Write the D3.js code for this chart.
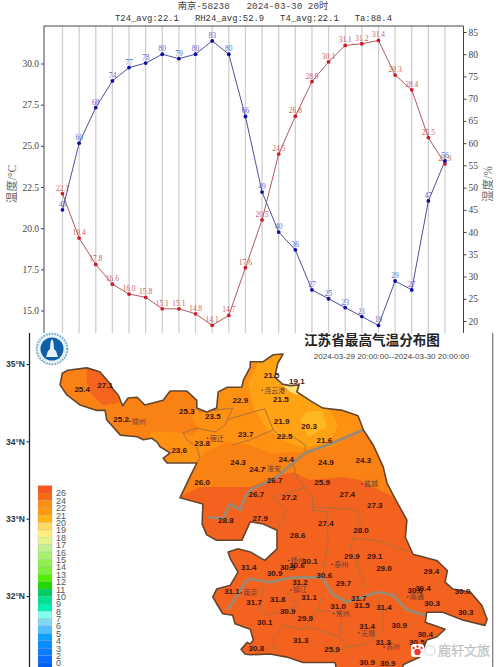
<!DOCTYPE html>
<html>
<head>
<meta charset="utf-8">
<script src="https://cdn.jsdelivr.net/npm/d3@7"></script>
<style>
  html, body { margin: 0; padding: 0; background: #fff; }
  svg { display: block; }
</style>
</head>
<body>
<div id="chart"></div>
<script>
// hourly station series
const temps = [22.1, 19.4, 17.8, 16.6, 16.0, 15.8, 15.1, 15.1, 14.8, 14.1, 14.7, 17.6, 20.5, 24.5, 26.8, 28.9, 30.1, 31.1, 31.2, 31.4, 29.3, 28.4, 25.5, 23.9];
const humidity = [45, 60, 68, 74, 77, 78, 80, 79, 80, 83, 80, 66, 49, 40, 36, 27, 25, 23, 21, 19, 29, 27, 47, 56];
const tempTicks = [15, 17.5, 20, 22.5, 25, 27.5, 30];
const rhTicks = [20, 25, 30, 35, 40, 45, 50, 55, 60, 65, 70, 75, 80, 85];

// legend
const legendLabels = ["26", "24", "22", "21", "20", "19", "18", "17", "16", "15", "14", "13", "12", "11", "10", "9", "8", "7", "6", "5", "4", "3", "2", "0"];
const legendColors = ["#F4581E", "#F96A16", "#FF8C12", "#FF9A10", "#FFB414", "#FFD868", "#FFF07C", "#E4F590", "#C0F090", "#A8F070", "#90F050", "#7CF040", "#50F000", "#22D800", "#00CC66", "#00E090", "#00F0B0", "#80FFF0", "#80D8F0", "#50BEFF", "#10A0FF", "#0A8CFF", "#0A7CFF", "#0A6CFF", "#0060F0"];
const latTicks = [35, 34, 33, 32];

// province outline, lon/lat
const outline = [[116.38,34.73],[116.41,34.88],[116.48,34.92],[116.73,34.95],[116.90,34.90],[117.03,34.75],[117.07,34.68],[117.14,34.60],[117.20,34.46],[117.27,34.56],[117.39,34.57],[117.49,34.47],[117.73,34.53],[117.82,34.65],[118.04,34.65],[118.17,34.53],[118.17,34.43],[118.30,34.38],[118.43,34.43],[118.45,34.64],[118.57,34.70],[118.76,34.70],[118.78,34.79],[118.87,34.96],[118.87,35.03],[119.04,35.03],[119.17,35.12],[119.30,35.13],[119.23,35.01],[119.19,34.83],[119.29,34.74],[119.39,34.72],[119.51,34.73],[119.48,34.64],[119.68,34.51],[119.82,34.43],[120.08,34.40],[120.28,34.33],[120.35,34.15],[120.48,33.95],[120.61,33.67],[120.66,33.46],[120.76,33.27],[120.92,32.98],[120.90,32.76],[121.00,32.54],[121.31,32.46],[121.45,32.33],[121.42,32.18],[121.52,32.09],[121.75,32.05],[121.90,31.88],[121.97,31.70],[121.94,31.62],[121.65,31.69],[121.39,31.79],[121.18,31.79],[121.16,31.66],[121.42,31.57],[121.31,31.47],[121.18,31.43],[121.09,31.21],[120.87,31.11],[120.87,30.78],[120.05,30.78],[119.98,31.14],[119.56,31.14],[119.35,31.21],[119.13,31.25],[118.87,31.24],[118.80,31.25],[118.75,31.31],[118.83,31.40],[118.87,31.38],[118.91,31.43],[118.87,31.57],[118.67,31.64],[118.64,31.75],[118.51,31.77],[118.43,31.90],[118.38,31.99],[118.43,32.09],[118.61,32.14],[118.71,32.31],[118.61,32.48],[118.58,32.57],[118.71,32.61],[118.87,32.57],[119.06,32.46],[119.22,32.61],[119.22,32.85],[119.04,32.93],[118.87,32.96],[118.76,32.72],[118.43,32.72],[118.30,32.79],[118.24,32.93],[118.25,33.19],[117.95,33.27],[118.08,33.54],[118.17,33.72],[117.78,33.72],[117.73,33.78],[117.82,33.85],[117.69,33.93],[117.65,33.99],[117.58,34.04],[117.47,34.02],[117.39,34.06],[117.17,34.08],[116.99,34.28],[116.97,34.40],[116.86,34.40],[116.64,34.47],[116.47,34.60]];

// temperature bands, lon/lat, painted warmest first over the base fill
const baseColor = "#F4621F";
const band24 = [[117.95,33.28],[118.21,33.41],[118.57,33.41],[118.87,33.41],[119.17,33.54],[119.43,33.60],[119.65,33.50],[120.08,33.54],[120.31,33.50],[120.74,33.28],[122,33.28],[122,35.3],[116,35.3],[116,33.28]];
const band22 = [[117.56,34.12],[117.88,34.12],[118.11,34.07],[118.19,34.15],[118.11,34.30],[118.19,34.47],[118.28,34.60],[118.41,34.73],[118.87,35.18],[120.18,35.18],[120.50,34.15],[120.35,34.15],[119.95,33.93],[119.61,33.86],[119.13,33.85],[118.87,33.95],[118.57,33.99],[118.28,33.86],[118.17,33.72],[117.75,33.63],[117.56,33.89]];
const band20 = [[119.04,35.18],[118.84,34.73],[118.93,34.40],[119.10,34.15],[119.33,33.99],[119.59,33.91],[119.92,34.00],[120.02,34.21],[119.89,34.43],[119.72,34.53],[119.52,34.79],[119.52,35.18]];
const band19 = [[119.52,34.28],[119.63,34.06],[119.87,34.19],[119.81,34.40],[119.61,34.38]];
const band18 = [[119.19,34.82],[119.26,34.74],[119.48,34.72],[119.49,34.60],[119.39,34.64]];
const hotSpot = [[116.73,34.99],[117.2,34.99],[117.07,34.68],[117.16,34.50],[116.94,34.47],[116.80,34.60],[116.73,34.76]];
const bands = [
  { ring: band24, color: "#FA8114" },
  { ring: hotSpot, color: "#F5641E" },
  { ring: band22, color: "#FE9112" },
  { ring: band20, color: "#FFA314" },
  { ring: band19, color: "#FFB822" },
  { ring: band18, color: "#FFE27A" },
];

// rivers and city borders, lon/lat
const rivers = [
  [[120.35,34.15],[119.95,33.98],[119.59,33.85],[119.43,33.72],[119.22,33.54],[118.87,33.37],[118.80,33.28],[118.74,33.11],[118.61,33.19],[118.51,33.00],[118.32,33.02]],
  [[118.57,31.82],[118.70,32.01],[118.80,32.18],[118.87,32.22],[119.13,32.18],[119.43,32.24],[119.81,32.24],[119.95,32.02],[120.14,31.92],[120.35,31.99],[120.54,32.05],[120.74,32.01],[120.92,31.82],[121.16,31.75]],
];
const borders = [
  [[118.17,34.43],[118.21,34.38],[118.64,34.43],[118.57,34.28],[118.87,34.37],[119.06,34.42],[119.17,34.15],[119.26,34.06],[119.43,34.06],[119.59,33.95],[119.59,33.85]],
  [[117.99,34.11],[118.04,34.02],[118.17,33.93],[118.21,33.78],[118.17,33.72]],
  [[117.99,34.11],[118.17,34.17],[118.41,34.12],[118.54,34.21],[118.57,34.28]],
  [[119.17,34.15],[118.87,34.02],[118.64,33.95]],
  [[119.43,33.72],[119.48,33.53],[119.69,33.28],[119.68,33.11],[119.87,33.09],[119.89,32.72],[119.85,32.46],[119.81,32.24]],
  [[119.17,33.28],[119.33,33.11],[119.26,32.94],[119.22,32.85]],
  [[119.17,33.28],[119.61,33.41]],
  [[119.69,33.15],[120.26,33.12],[120.33,32.98],[120.21,32.74],[120.18,32.63],[120.24,32.50],[120.37,32.12]],
  [[120.21,32.74],[120.53,32.72],[120.96,32.57]],
  [[119.81,32.02],[119.76,31.82],[119.55,31.57],[119.29,31.62],[119.17,31.44],[119.19,31.30]],
  [[119.76,31.82],[120.07,31.77],[120.04,31.47],[120.14,31.34],[120.40,31.38],[120.61,31.56],[120.61,31.77],[120.54,31.99]],
  [[119.55,31.57],[119.65,31.60],[120.04,31.47]],
  [[119.95,31.25],[120.14,31.34]],
  [[119.04,32.14],[119.00,31.82],[119.09,31.75],[119.35,31.82],[119.50,31.88],[119.33,32.08]],
];

// station readings: lon, lat, value
const stations = [[116.67,34.67,"25.4"],[116.97,34.73,"27.1"],[117.18,34.28,"25.2"],[118.04,34.39,"25.3"],[118.38,34.33,"23.5"],[118.74,34.53,"22.9"],[118.81,34.09,"23.7"],[117.94,33.89,"23.6"],[118.24,33.97,"23.8"],[118.71,33.73,"24.3"],[118.24,33.47,"26.0"],[119.15,34.86,"21.5"],[119.48,34.78,"19.1"],[119.27,34.55,"21.5"],[119.28,34.26,"21.9"],[119.64,34.20,"20.3"],[119.32,34.06,"22.5"],[119.84,34.02,"21.6"],[119.34,33.77,"24.4"],[119.86,33.73,"24.9"],[120.35,33.75,"24.3"],[118.96,33.64,"24.7"],[119.19,33.50,"26.7"],[119.81,33.47,"25.9"],[120.14,33.32,"27.4"],[118.95,33.31,"26.7"],[119.38,33.28,"27.2"],[120.50,33.17,"27.3"],[118.55,32.98,"28.8"],[119.00,33.00,"27.9"],[119.86,32.94,"27.4"],[120.32,32.85,"28.0"],[119.49,32.79,"28.6"],[120.20,32.52,"29.9"],[120.50,32.52,"29.1"],[120.62,32.36,"29.0"],[121.24,32.32,"29.4"],[119.65,32.45,"30.1"],[119.36,32.37,"30.9"],[119.19,32.30,"30.9"],[119.48,32.40,"30.6"],[119.84,32.27,"30.6"],[119.52,32.18,"31.2"],[120.09,32.16,"29.7"],[121.03,32.08,"30.0"],[121.13,32.10,"30.4"],[121.65,32.06,"30.0"],[118.85,32.37,"31.4"],[118.63,32.06,"31.1"],[120.29,31.97,"31.7"],[119.23,31.96,"31.8"],[119.64,31.99,"31.1"],[118.92,31.92,"31.7"],[120.33,31.88,"31.5"],[120.02,31.87,"31.0"],[120.62,31.86,"31.4"],[121.25,31.91,"30.3"],[121.69,31.79,"30.3"],[119.36,31.80,"30.9"],[119.59,31.71,"29.9"],[119.06,31.66,"30.1"],[120.82,31.62,"30.9"],[120.40,31.61,"31.4"],[121.16,31.51,"30.4"],[119.53,31.43,"31.3"],[120.61,31.40,"31.3"],[121.05,31.40,"30.5"],[119.94,31.31,"25.9"],[118.95,31.33,"30.8"],[120.67,31.13,"30.9"],[120.40,31.14,"30.9"]];
const cities = [[117.41,34.26,"徐州"],[118.43,34.04,"宿迁"],[119.19,34.66,"连云港"],[119.18,33.65,"淮安"],[120.45,33.45,"盐城"],[119.49,32.46,"扬州"],[120.06,32.41,"泰州"],[121.05,31.99,"南通"],[119.52,32.08,"镇江"],[118.87,32.04,"南京"],[120.08,31.77,"常州"],[120.41,31.52,"无锡"],[120.74,31.34,"苏州"]];

const width = 500;
const height = 667;
const cjk = "'Noto Sans CJK SC', sans-serif";
const serif = "'Liberation Serif', 'Noto Sans CJK SC', serif";
const plot = { left: 44, right: 463.5, top: 26, bottom: 333 };

const svg = d3.select("#chart").append("svg")
  .attr("width", width)
  .attr("height", height)
  .attr("viewBox", `0 0 ${width} ${height}`);

// ---- station chart ----
const x = d3.scaleLinear().domain([0, 23]).range([62.5, 445]);
const yTemp = d3.scaleLinear().domain([15, 30]).range([310.5, 63.5]);
const yRh = d3.scaleLinear().domain([20, 85]).range([321, 32]);

const station = svg.append("g");
station.selectAll("line.grid").data(d3.range(24)).enter()
  .append("line")
  .attr("class", "grid")
  .attr("x1", (d) => x(d)).attr("x2", (d) => x(d))
  .attr("y1", plot.top).attr("y2", plot.bottom)
  .attr("stroke", "#cfcfcf")
  .attr("stroke-width", 1.3);

station.append("path")
  .attr("d", `M${plot.left},${plot.bottom}V${plot.top}H${plot.right}V${plot.bottom}`)
  .attr("fill", "none")
  .attr("stroke", "#444")
  .attr("stroke-width", 1);

const leftAxis = d3.axisLeft(yTemp).tickValues(tempTicks).tickFormat(d3.format(".1f")).tickSize(3).tickPadding(2);
const rightAxis = d3.axisRight(yRh).tickValues(rhTicks).tickSize(3).tickPadding(2);
[station.append("g").attr("transform", `translate(${plot.left},0)`).call(leftAxis),
 station.append("g").attr("transform", `translate(${plot.right},0)`).call(rightAxis)].forEach((g) => {
  g.select(".domain").remove();
  g.selectAll("line").attr("stroke", "#444");
  g.selectAll("text").attr("fill", "#444").style("font-family", serif).style("font-size", "9.5px");
});

function drawSeries(values, scale, lineColor, dotColor, labelColor, fmt) {
  const line = d3.line().x((d, i) => x(i)).y((d) => scale(d));
  station.append("path")
    .attr("d", line(values))
    .attr("fill", "none")
    .attr("stroke", lineColor)
    .attr("stroke-width", 1);
  station.selectAll(null).data(values).enter()
    .append("circle")
    .attr("cx", (d, i) => x(i))
    .attr("cy", (d) => scale(d))
    .attr("r", 1.9)
    .attr("fill", dotColor);
  station.selectAll(null).data(values).enter()
    .append("text")
    .attr("x", (d, i) => x(i))
    .attr("y", (d) => scale(d) - 3)
    .attr("text-anchor", "middle")
    .attr("fill", labelColor)
    .style("font-family", serif)
    .style("font-size", "7.5px")
    .text(fmt);
}
drawSeries(temps, yTemp, "#b2595c", "#cf1a2a", "#c9605f", d3.format(".1f"));
drawSeries(humidity, yRh, "#50509f", "#0c0ca8", "#5c68cf", (d) => d);

station.append("text")
  .attr("transform", "translate(16,184) rotate(-90)")
  .attr("text-anchor", "middle")
  .attr("fill", "#666")
  .style("font-family", serif)
  .style("font-size", "11.5px")
  .text("温度/°C");
station.append("text")
  .attr("transform", "translate(492,184) rotate(-90)")
  .attr("text-anchor", "middle")
  .attr("fill", "#666")
  .style("font-family", serif)
  .style("font-size", "11.5px")
  .text("湿度/%");

const mono = "'Liberation Mono', 'Noto Sans CJK SC', monospace";
station.append("text")
  .attr("x", 253).attr("y", 9)
  .attr("text-anchor", "middle")
  .attr("fill", "#444")
  .style("font-family", mono)
  .style("font-size", "9.3px")
  .style("white-space", "pre")
  .text("南京-58238   2024-03-30 20时");
station.append("text")
  .attr("x", 253.5).attr("y", 20.5)
  .attr("text-anchor", "middle")
  .attr("fill", "#333")
  .style("font-family", mono)
  .style("font-size", "8.9px")
  .style("white-space", "pre")
  .text("T24_avg:22.1   RH24_avg:52.9   T4_avg:22.1   Ta:88.4");

// ---- temperature map ----
const lon = d3.scaleLinear().domain([116, 122]).range([31, 489.4]);
const lat = d3.scaleLinear().domain([35, 32]).range([364, 596]);
const ringPath = d3.line().x((d) => lon(d[0])).y((d) => lat(d[1]));

const map = svg.append("g");
map.append("rect")
  .attr("x", 0).attr("y", plot.bottom)
  .attr("width", width).attr("height", height - plot.bottom)
  .attr("fill", "#fff");

svg.append("defs").append("clipPath").attr("id", "province")
  .append("path").attr("d", ringPath(outline) + "Z");

const inside = map.append("g").attr("clip-path", "url(#province)");
inside.append("path").attr("d", ringPath(outline) + "Z").attr("fill", baseColor);
inside.selectAll(null).data(bands).enter()
  .append("path")
  .attr("d", (d) => ringPath(d.ring) + "Z")
  .attr("fill", (d) => d.color);
inside.selectAll(null).data(borders).enter()
  .append("path")
  .attr("d", ringPath)
  .attr("fill", "none")
  .attr("stroke", "#b0703e")
  .attr("stroke-width", 1);
inside.selectAll(null).data(rivers).enter()
  .append("path")
  .attr("d", ringPath)
  .attr("fill", "none")
  .attr("stroke", "#9a8a74")
  .attr("stroke-width", 2.8)
  .attr("stroke-linejoin", "round");

map.append("path")
  .attr("d", ringPath(outline) + "Z")
  .attr("fill", "none")
  .attr("stroke", "#64462f")
  .attr("stroke-width", 1.6)
  .attr("stroke-linejoin", "round");

map.selectAll(null).data(cities).enter()
  .append("text")
  .attr("x", (d) => lon(d[0]))
  .attr("y", (d) => lat(d[1]))
  .attr("dy", "0.35em")
  .attr("text-anchor", "middle")
  .attr("fill", "#6a4038")
  .style("font-family", cjk)
  .style("font-size", "7px")
  .text((d) => d[2]);
map.selectAll(null).data(cities).enter()
  .append("circle")
  .attr("cx", (d) => lon(d[0]) - d[2].length * 3.5 - 2)
  .attr("cy", (d) => lat(d[1]))
  .attr("r", 0.8)
  .attr("fill", "#5a2a20");

map.selectAll(null).data(stations).enter()
  .append("text")
  .attr("x", (d) => lon(d[0]))
  .attr("y", (d) => lat(d[1]))
  .attr("dy", "0.35em")
  .attr("text-anchor", "middle")
  .attr("fill", "#3a1410")
  .style("font-family", "'Liberation Sans', Arial, sans-serif")
  .style("font-size", "8px")
  .style("font-weight", "bold")
  .text((d) => d[2]);

// frame and latitude axis
map.append("line")
  .attr("x1", 492.7).attr("x2", 492.7).attr("y1", plot.bottom).attr("y2", height)
  .attr("stroke", "#777").attr("stroke-width", 1.2);
const latAxis = d3.axisLeft(lat).tickValues(latTicks).tickFormat((d) => `${d}°N`).tickSize(3).tickPadding(1.5);
const latG = map.append("g").attr("transform", "translate(29.5,0)").call(latAxis);
latG.select(".domain").remove();
latG.selectAll("line").attr("stroke", "#222");
latG.selectAll("text").attr("fill", "#333").style("font-family", "'Liberation Sans', Arial, sans-serif").style("font-size", "8.5px").style("font-weight", "bold");
map.append("line")
  .attr("x1", 29.5).attr("x2", 29.5).attr("y1", plot.bottom).attr("y2", height)
  .attr("stroke", "#222").attr("stroke-width", 1.3);

map.append("text")
  .attr("x", 372).attr("y", 345)
  .attr("text-anchor", "middle")
  .attr("fill", "#222")
  .style("font-family", cjk)
  .style("font-size", "13.6px")
  .style("font-weight", "bold")
  .text("江苏省最高气温分布图");
map.append("text")
  .attr("x", 391.5).attr("y", 358.5)
  .attr("text-anchor", "middle")
  .attr("fill", "#444")
  .style("font-family", "'Liberation Sans', Arial, sans-serif")
  .style("font-size", "8.1px")
  .text("2024-03-29 20:00:00--2024-03-30 20:00:00");

// legend
const legendY = d3.scalePoint().domain(legendLabels).range([493, 663]);
const boxH = legendY.step();
const legend = map.append("g");
legend.selectAll("rect").data(legendColors).enter()
  .append("rect")
  .attr("x", 38)
  .attr("y", (d, i) => (i === 0 ? legendY(legendLabels[0]) - boxH : legendY(legendLabels[i - 1])))
  .attr("width", 14)
  .attr("height", boxH)
  .attr("fill", (d) => d)
  .attr("stroke", "#999")
  .attr("stroke-opacity", 0.35)
  .attr("stroke-width", 0.5);
legend.selectAll("text").data(legendLabels).enter()
  .append("text")
  .attr("x", 56)
  .attr("y", (d) => legendY(d))
  .attr("dy", "0.38em")
  .attr("fill", "#555")
  .style("font-family", "'Liberation Sans', Arial, sans-serif")
  .style("font-size", "9px")
  .text((d) => d);

// badge, top left of the map
const badge = map.append("g").attr("transform", "translate(52,349)");
badge.append("circle").attr("r", 16).attr("fill", "#eaf3f8").attr("stroke", "#b5d3e3").attr("stroke-width", 1);
badge.append("circle").attr("r", 15).attr("fill", "none").attr("stroke", "#5b9cc5").attr("stroke-width", 1.6).attr("stroke-dasharray", "1.2 1.6");
badge.append("circle").attr("r", 11.5).attr("fill", "#0f5fa8");
badge.append("path").attr("d", "M-6,8 L-4,2 L-2,0 L-1.5,-7 L0,-10 L1.5,-7 L2,0 L4,2 L6,8 Z").attr("fill", "#e6f0f7");

// watermark
const mark = map.append("g");
mark.append("rect").attr("x", 411).attr("y", 644).attr("width", 13).attr("height", 13).attr("rx", 3).attr("fill", "#fff");
mark.append("circle").attr("cx", 417.5).attr("cy", 652).attr("r", 3.2).attr("fill", "#e83a30");
[[413.5, 648], [417.5, 646.5], [421.5, 648]].forEach((p) => {
  mark.append("circle").attr("cx", p[0]).attr("cy", p[1]).attr("r", 1.2).attr("fill", "#e83a30");
});
mark.append("circle").attr("cx", 430).attr("cy", 650.5).attr("r", 5).attr("fill", "none").attr("stroke", "#e4e4e4").attr("stroke-width", 1.5);
mark.append("text")
  .attr("x", 438).attr("y", 655)
  .attr("fill", "#e0e0e0")
  .attr("stroke", "#9a9a9a")
  .attr("stroke-width", 0.25)
  .style("font-family", cjk)
  .style("font-size", "13px")
  .text("鹿轩文旅");
</script>
</body>
</html>
